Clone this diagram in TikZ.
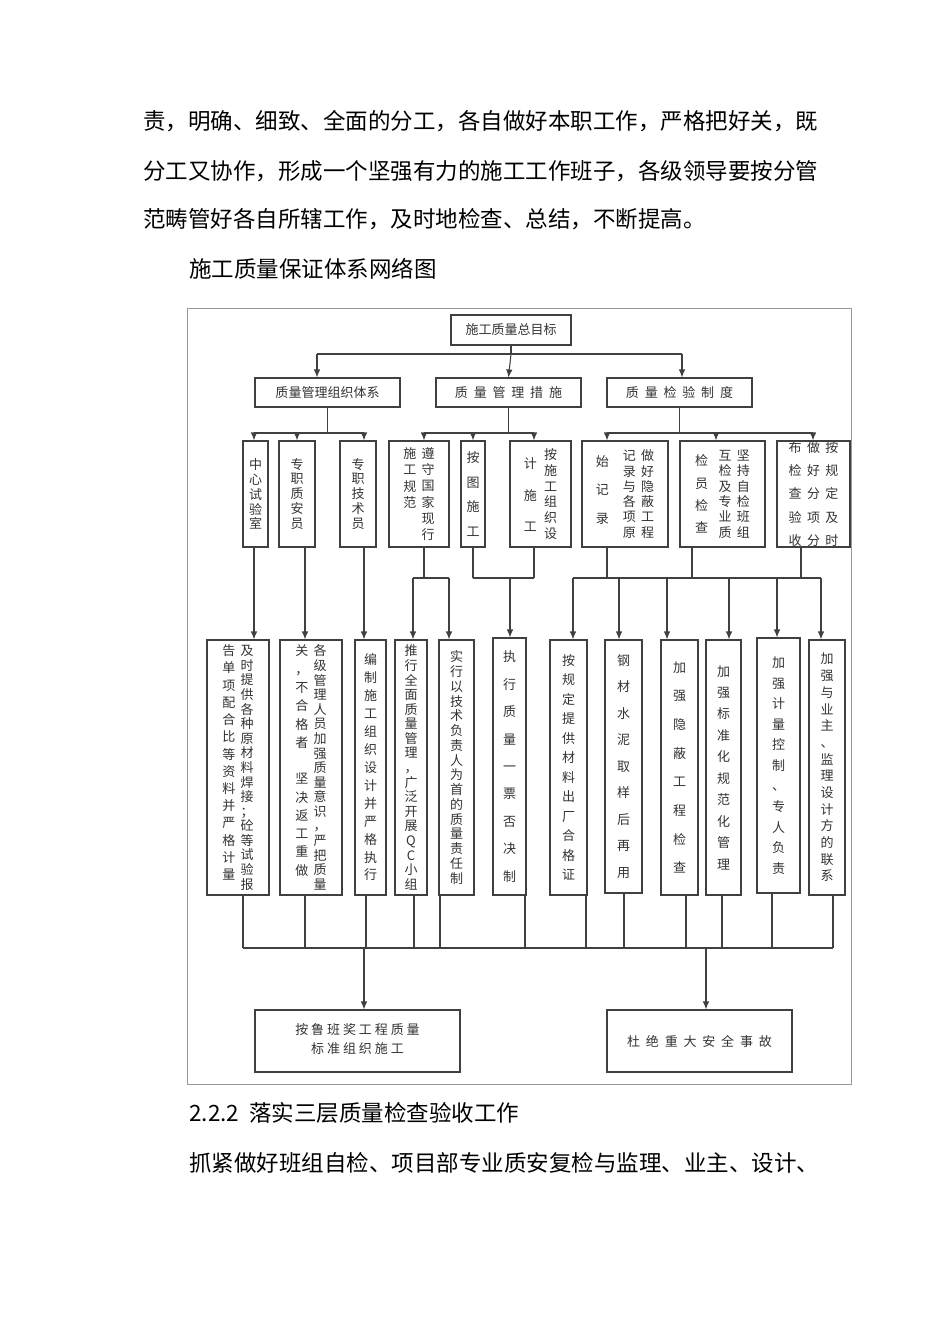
\documentclass[tikz,border=0pt]{standalone}
\usepackage{fontspec}
\setmainfont{Noto Sans CJK SC}
\usetikzlibrary{arrows.meta}
\makeatletter
% one vertical column of characters, optional pitch
\newcommand\vcol[2][8.5pt]{\vtop{\baselineskip=#1\lineskiplimit=-\maxdimen
  \@tfor\ch:=#2\do{\hbox to 1em{\hss\ch\hss}}}}
\makeatother
\newcommand\bx[6]{\node[box,minimum width={(#4-#2)*0.02cm},minimum height={(#5-#3)*0.02cm}]
  (#1) at ({(#2+#4)/2},{(#3+#5)/2}) {#6};}
\tikzset{
  box/.style={draw=black!75,line width=0.6pt,inner sep=0pt,text=black!80,
    font=\fontsize{7.4}{9}\selectfont},
  body/.style={anchor=west,inner sep=0pt,font=\fontsize{12.8}{15}\selectfont},
  ln/.style={draw=black!75,line width=0.6pt},
  arr/.style={ln,-{Latex[length=1.6mm,width=1.3mm]}}
}
\begin{document}
\begin{tikzpicture}[x=0.02cm,y=-0.02cm]
\useasboundingbox (0,0) rectangle (950,1344);
% text of the page
\node[body] (p1) at (143,121) {责，明确、细致、全面的分工，各自做好本职工作，严格把好关，既};
\node[body] (p2) at (143,171) {分工又协作，形成一个坚强有力的施工工作班子，各级领导要按分管};
\node[body] (p3) at (143,219) {范畴管好各自所辖工作，及时地检查、总结，不断提高。};
\node[body] (cap) at (189,269) {施工质量保证体系网络图};
\node[body] (sec) at (189,1113) {2.2.2\ \ 落实三层质量检查验收工作};
\node[body] (p4) at (189,1163) {抓紧做好班组自检、项目部专业质安复检与监理、业主、设计、};
\draw[black!40,line width=0.5pt] (187,308) rectangle (851,1084);

% top levels
\bx{top}{451}{315}{571}{345}{施工质量总目标}
\bx{g1}{255}{378}{400}{407}{质量管理组织体系}
\bx{g2}{436}{378}{581}{407}{质\ \ 量\ \ 管\ \ 理\ \ 措\ \ 施}
\bx{g3}{607}{378}{752}{407}{质\ \ 量\ \ 检\ \ 验\ \ 制\ \ 度}

% third level
\bx{a1}{243}{441}{268}{547}{\vcol{中心试验室}}
\bx{a2}{279}{441}{315}{547}{\vcol{专职质安员}}
\bx{a3}{340}{441}{376}{547}{\vcol{专职技术员}}
\bx{a4}{389}{441}{449}{547}{\vcol[9.4pt]{施工规范}\hspace{3pt}\vcol[9.3pt]{遵守国家现行}}
\bx{a5}{461}{441}{485}{547}{\vcol[14.2pt]{按图施工}}
\bx{a6}{510}{441}{571}{547}{\raisebox{-5pt}{\vcol[18pt]{计施工}}\hspace{4pt}\vcol[8.9pt]{按施工组织设}}
\bx{a7}{582}{441}{668}{547}{\raisebox{-3pt}{\vcol[16.5pt]{始记录}}\hspace{8pt}\vcol[8.7pt]{记录与各项原}\hspace{3pt}\vcol[8.7pt]{做好隐蔽工程}}
\bx{a8}{680}{441}{765}{547}{\raisebox{-3pt}{\vcol[12.6pt]{检员检查}}\hspace{6pt}\vcol[8.7pt]{互检及专业质}\hspace{3pt}\vcol[8.7pt]{坚持自检班组}}
\bx{a9}{777}{441}{850}{547}{\vcol[13.2pt]{布检查验收}\hspace{3pt}\vcol[13.2pt]{做好分项分}\hspace{3pt}\vcol[13.2pt]{按规定及时}}

% fourth level
\bx{b1}{207}{640}{269}{895}{\vcol[9.8pt]{告单项配合比等资料并严格计量}\hspace{3pt}\vcol[8.3pt]{及时提供各种原材料焊接；砼等试验报}}
\bx{b2}{280}{640}{342}{895}{\vcol[10.4pt]{关，不合格者~坚决返工重做}\hspace{3pt}\vcol[8.3pt]{各级管理人员加强质量意识，严把质量}}
\bx{b3}{355}{640}{386}{895}{\vcol[10.2pt]{编制施工组织设计并严格执行}}
\bx{b4}{395}{640}{427}{895}{\vcol[8.3pt]{推行全面质量管理，广泛开展QC小组}}
\bx{b5}{439}{640}{474}{895}{\vcol[8.4pt]{实行以技术负责人为首的质量责任制}}
\bx{b6}{493}{638}{526}{895}{\vcol[15.6pt]{执行质量一票否决制}}
\bx{b7}{550}{640}{587}{895}{\vcol[11.1pt]{按规定提供材料出厂合格证}}
\bx{b8}{605}{640}{642}{893}{\vcol[15.1pt]{钢材水泥取样后再用}}
\bx{b9}{661}{640}{698}{895}{\vcol[16.3pt]{加强隐蔽工程检查}}
\bx{b10}{706}{640}{741}{895}{\vcol[12.2pt]{加强标准化规范化管理}}
\bx{b11}{757}{638}{800}{893}{\vcol[11.7pt]{加强计量控制、专人负责}}
\bx{b12}{809}{640}{845}{895}{\vcol[9.5pt]{加强与业主、监理设计方的联系}}

% goals
\bx{c1}{255}{1010}{460}{1072}{\begin{tabular}{c}按\ 鲁\ 班\ 奖\ 工\ 程\ 质\ 量\\[2pt]标\ 准\ 组\ 织\ 施\ 工\end{tabular}}
\bx{c2}{607}{1010}{792}{1072}{杜\ \ 绝\ \ 重\ \ 大\ \ 安\ \ 全\ \ 事\ \ 故}

% connectors from the goal
\draw[ln] (top.south) -- (top.south |- 0,354);
\draw[ln] (317,354) -- (682,354);
\draw[arr] (317,354) -- (317,0 |- g1.north);
\draw[arr] (top.south |- 0,354) -- (g2.north);
\draw[arr] (682,354) -- (682,0 |- g3.north);
% second level to third level
\draw[ln] (g1.south) -- (g1.south |- 0,433);
\draw[ln] (g2.south) -- (g2.south |- 0,433);
\draw[ln] (g3.south) -- (g3.south |- 0,433);
\draw[ln] (254,433) -- (364,433);
\draw[ln] (424,433) -- (534,433);
\draw[ln] (607,433) -- (813,433);
\foreach \x/\n in {254/a1,297/a2,364/a3,424/a4,473/a5,534/a6,607/a7,716/a8,813/a9}
  \draw[arr] (\x,433) -- (\x,0 |- \n.north);
% third level to fourth level
\foreach \x/\a/\b in {254/a1/b1,305/a2/b2,364/a3/b3}
  \draw[arr] (\x,0 |- \a.south) -- (\x,0 |- \b.north);
\foreach \x/\n in {424/a4,473/a5,534/a6,607/a7,692/a8,801/a9}
  \draw[ln] (\x,0 |- \n.south) -- (\x,578);
\draw[ln] (413,578) -- (449,578);
\draw[ln] (473,578) -- (534,578);
\draw[ln] (573,578) -- (821,578);
\foreach \x/\n in {413/b4,449/b5,510/b6,573/b7,619/b8,667/b9,729/b10,777/b11,821/b12}
  \draw[arr] (\x,578) -- (\x,0 |- \n.north);
% fourth level to goals
\foreach \x/\n in {243/b1,305/b2,366/b3,414/b4,440/b5,525/b6,586/b7,624/b8,686/b9,722/b10,772/b11,833/b12}
  \draw[ln] (\x,0 |- \n.south) -- (\x,948);
\draw[ln] (243,948) -- (833,948);
\draw[arr] (364,948) -- (364,0 |- c1.north);
\draw[arr] (706,948) -- (706,0 |- c2.north);
\end{tikzpicture}
\end{document}
